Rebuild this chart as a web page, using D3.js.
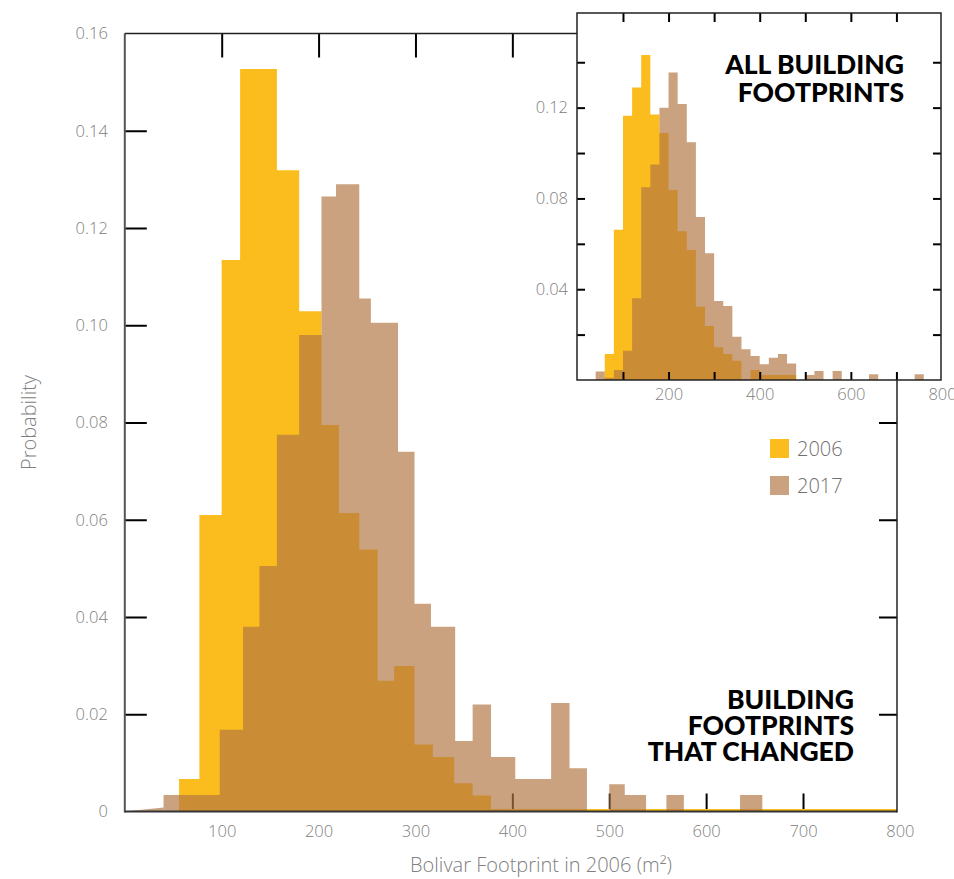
<!DOCTYPE html>
<html>
<head>
<meta charset="utf-8">
<script src="https://cdn.jsdelivr.net/npm/d3@7"></script>
<style>
  body { margin: 0; background: #fff; }
  svg text { font-family: "Open Sans", Lato, sans-serif; }
  .tickText text { fill: #808080; font-size: 16.5px; font-weight: 300; }
  .title { font-family: Lato, sans-serif !important; font-weight: 900; font-size: 26.5px; fill: #000; }
</style>
</head>
<body>
<div id="chart"></div>
<script>
// main chart: footprints that changed (bin edges in m2, probability per bin)
var mainEdges2006 = [56, 77, 100, 119, 157, 180, 203, 221, 242, 261, 278, 299, 318, 340, 359, 378, 797];
var main2006 = [0.0067, 0.061, 0.1134, 0.1527, 0.1319, 0.1029, 0.0795, 0.0614, 0.0539, 0.0269, 0.0299, 0.0138, 0.0112, 0.0058, 0.0033, 0.0005];

var mainEdges2017 = [40, 98, 122, 139, 157, 180, 203, 218, 242, 254, 282, 299, 316, 341, 359, 378, 403, 440, 459, 477, 500, 516, 538, 559, 577, 635, 658, 797];
var main2017 = [0.0034, 0.0168, 0.038, 0.0505, 0.0775, 0.098, 0.1265, 0.129, 0.1055, 0.1005, 0.074, 0.0427, 0.038, 0.0145, 0.022, 0.0112, 0.0067, 0.0223, 0.0089, 0, 0.0056, 0.0034, 0, 0.0034, 0, 0.0034, 0];
var lead2017 = [[0, 0], [40, 0.0008]];

// inset: all building footprints, 20 m2 bins
var insetStarts = [40, 60, 80, 100, 120, 140, 160, 180, 200, 220, 240, 260, 280, 300, 320, 340, 360, 380, 400, 420, 440, 460, 480, 500, 520, 540, 560, 580, 600, 620, 640, 660, 680, 700, 720, 740];
var inset2006 = [0, 0.0115, 0.0662, 0.1164, 0.1289, 0.1432, 0.117, 0.1088, 0.0837, 0.0655, 0.0573, 0.0323, 0.0238, 0.0144, 0.0115, 0.0085, 0, 0.0044, 0.0022, 0.0022, 0.0022, 0.0022, 0, 0, 0, 0, 0, 0, 0, 0, 0, 0, 0, 0, 0, 0];
var inset2017 = [0.0037, 0.001, 0.0044, 0.0129, 0.036, 0.0849, 0.095, 0.12, 0.1355, 0.1216, 0.1048, 0.0718, 0.0558, 0.0348, 0.0326, 0.0191, 0.0135, 0.0106, 0.0069, 0.0098, 0.0115, 0.0073, 0, 0.0022, 0.004, 0, 0.004, 0, 0, 0, 0.0025, 0, 0, 0, 0, 0.0025];
var binWidth = 20;

var years = ["2006", "2017"];
var mainTitle = ["BUILDING", "FOOTPRINTS", "THAT CHANGED"];
var insetTitle = ["ALL BUILDING", "FOOTPRINTS"];
var mainXTicks = [100, 200, 300, 400, 500, 600, 700, 800];
var mainYTicks = [0, 0.02, 0.04, 0.06, 0.08, 0.10, 0.12, 0.14, 0.16];
var insetXTicks = [100, 200, 300, 400, 500, 600, 700];
var insetXLabels = [200, 400, 600, 800];
var insetYTicks = [0.02, 0.04, 0.06, 0.08, 0.10, 0.12, 0.14];
var insetYLabels = [0.04, 0.08, 0.12];

var colorYellow = "#FBBD1E";
var colorBrown = "#B27643";
var brownOpacity = 0.68;

var width = 954, height = 879;
var svg = d3.select("#chart").append("svg")
    .attr("width", width)
    .attr("height", height);

var x = d3.scaleLinear().domain([0, 797]).range([124.8, 897]);
var y = d3.scaleLinear().domain([0, 0.16]).range([811.5, 33.5]);

function stepPoints(edges, values) {
    var pts = values.map(function(v, i) { return [edges[i], v]; });
    pts.push([edges[edges.length - 1], values[values.length - 1]]);
    return pts;
}

function stepArea(xs, ys) {
    return d3.area()
        .x(function(d) { return xs(d[0]); })
        .y0(ys(0))
        .y1(function(d) { return ys(d[1]); })
        .curve(d3.curveStepAfter);
}

var fmt = function(d) { return d === 0 ? "0" : d3.format(".2f")(d); };

// main axes (ticks point inward, drawn under the bars)
var gLeft = svg.append("g").attr("class", "tickText")
    .attr("transform", "translate(" + x(0) + ",0)")
    .call(d3.axisLeft(y).tickValues(mainYTicks).tickSize(-22).tickPadding(17).tickFormat(fmt));
var gRight = svg.append("g")
    .attr("transform", "translate(897,0)")
    .call(d3.axisRight(y).tickValues(mainYTicks.slice(1, -1)).tickSize(-18).tickFormat(""));
var gBottom = svg.append("g").attr("class", "tickText")
    .attr("transform", "translate(0," + y(0) + ")")
    .call(d3.axisBottom(x).tickValues(mainXTicks).tickSize(-18).tickPadding(14).tickFormat(d3.format("d")));
var gTop = svg.append("g")
    .attr("transform", "translate(0," + y(0.16) + ")")
    .call(d3.axisTop(x).tickValues(mainXTicks.slice(0, -1)).tickSize(-24).tickFormat(""));
[gLeft, gRight, gBottom, gTop].forEach(function(g) {
    g.select(".domain").remove();
    g.selectAll(".tick line").attr("stroke", "#000").attr("stroke-width", 2);
});
gLeft.selectAll(".tick").filter(function(d) { return d === 0 || d === 0.16; }).select("line").remove();
gBottom.selectAll(".tick").filter(function(d) { return d === 800; }).select("line").remove();
gBottom.selectAll(".tick text").attr("dy", "0.71em");

// main histograms
var mainArea = stepArea(x, y);
svg.append("path")
    .datum(stepPoints(mainEdges2006, main2006))
    .attr("fill", colorYellow)
    .attr("d", mainArea);
svg.append("path")
    .datum(lead2017)
    .attr("fill", colorBrown)
    .attr("fill-opacity", brownOpacity)
    .attr("d", d3.area().x(function(d) { return x(d[0]); }).y0(y(0)).y1(function(d) { return y(d[1]); }));
svg.append("path")
    .datum(stepPoints(mainEdges2017, main2017))
    .attr("fill", colorBrown)
    .attr("fill-opacity", brownOpacity)
    .attr("d", mainArea);

// main frame
svg.append("line").attr("x1", x(0)).attr("x2", x(0)).attr("y1", y(0.16)).attr("y2", y(0) + 1)
    .attr("stroke", "#555").attr("stroke-width", 2);
svg.append("line").attr("x1", x(0)).attr("x2", 897).attr("y1", y(0)).attr("y2", y(0))
    .attr("stroke", "#333").attr("stroke-width", 2);
svg.append("line").attr("x1", x(0)).attr("x2", 897).attr("y1", y(0.16)).attr("y2", y(0.16))
    .attr("stroke", "#222").attr("stroke-width", 1.5);
svg.append("line").attr("x1", 897).attr("x2", 897).attr("y1", y(0.16)).attr("y2", y(0) + 1)
    .attr("stroke", "#222").attr("stroke-width", 1.5);

// axis titles
svg.append("text")
    .attr("transform", "translate(36," + ((y(0) + y(0.16)) / 2) + ") rotate(-90)")
    .attr("text-anchor", "middle")
    .attr("fill", "#808080")
    .style("font-size", "20px")
    .style("font-weight", 300)
    .text("Probability");
svg.append("text")
    .attr("x", 541)
    .attr("y", 872)
    .attr("text-anchor", "middle")
    .attr("fill", "#808080")
    .style("font-size", "20px")
    .style("font-weight", 300)
    .text("Bolivar Footprint in 2006 (m²)");

svg.append("text")
    .attr("class", "title")
    .attr("text-anchor", "end")
    .selectAll("tspan")
    .data(mainTitle)
    .enter().append("tspan")
    .attr("x", 854)
    .attr("y", function(d, i) { return 709 + i * 26; })
    .text(function(d) { return d; });

// legend
var legend = svg.selectAll(".legend")
    .data(years)
    .enter().append("g")
    .attr("class", "legend")
    .attr("transform", function(d, i) { return "translate(770," + (439 + i * 37) + ")"; });
legend.append("rect")
    .attr("width", 19)
    .attr("height", 19)
    .attr("fill", function(d, i) { return i === 0 ? colorYellow : colorBrown; })
    .attr("fill-opacity", function(d, i) { return i === 0 ? 1 : brownOpacity; });
legend.append("text")
    .attr("x", 27)
    .attr("y", 10)
    .attr("dy", "0.35em")
    .attr("fill", "#6f6f6f")
    .style("font-size", "20px")
    .style("font-weight", 300)
    .text(function(d) { return d; });

// inset
var ix = d3.scaleLinear().domain([0, 800]).range([577.4, 942]);
var iy = d3.scaleLinear().domain([0, 0.1617]).range([380, 13]);

svg.append("rect")
    .attr("x", 577)
    .attr("y", iy(0.1617))
    .attr("width", 941 - 577)
    .attr("height", iy(0) - iy(0.1617))
    .attr("fill", "#fff");

var insetEdges = insetStarts.concat([insetStarts[insetStarts.length - 1] + binWidth]);
var insetArea = stepArea(ix, iy);
svg.append("path")
    .datum(stepPoints(insetEdges, inset2006))
    .attr("fill", colorYellow)
    .attr("d", insetArea);
svg.append("path")
    .datum(stepPoints(insetEdges, inset2017))
    .attr("fill", colorBrown)
    .attr("fill-opacity", brownOpacity)
    .attr("d", insetArea);

var iLeft = svg.append("g").attr("transform", "translate(577,0)")
    .call(d3.axisLeft(iy).tickValues(insetYTicks).tickSize(-8).tickFormat(""));
var iRight = svg.append("g").attr("transform", "translate(941,0)")
    .call(d3.axisRight(iy).tickValues(insetYTicks).tickSize(-8).tickFormat(""));
var iTop = svg.append("g").attr("transform", "translate(0," + iy(0.1617) + ")")
    .call(d3.axisTop(ix).tickValues(insetXTicks).tickSize(-9).tickFormat(""));
var iBottom = svg.append("g").attr("transform", "translate(0," + iy(0) + ")")
    .call(d3.axisBottom(ix).tickValues(insetXTicks).tickSize(-8).tickFormat(""));
[iLeft, iRight, iTop, iBottom].forEach(function(g) {
    g.select(".domain").remove();
    g.selectAll(".tick line").attr("stroke", "#000").attr("stroke-width", 2);
});

svg.append("g").attr("class", "tickText")
    .attr("transform", "translate(577,0)")
    .call(d3.axisLeft(iy).tickValues(insetYLabels).tickSize(0).tickPadding(9).tickFormat(d3.format(".2f")))
    .select(".domain").remove();
var iLab = svg.append("g").attr("class", "tickText")
    .attr("transform", "translate(0," + iy(0) + ")")
    .call(d3.axisBottom(ix).tickValues(insetXLabels).tickSize(0).tickPadding(8).tickFormat(d3.format("d")));
iLab.select(".domain").remove();

svg.append("rect")
    .attr("x", 577)
    .attr("y", iy(0.1617))
    .attr("width", 941 - 577)
    .attr("height", iy(0) - iy(0.1617))
    .attr("fill", "none")
    .attr("stroke", "#222")
    .attr("stroke-width", 1.5);

svg.append("text")
    .attr("class", "title")
    .attr("text-anchor", "end")
    .selectAll("tspan")
    .data(insetTitle)
    .enter().append("tspan")
    .attr("x", 904)
    .attr("y", function(d, i) { return 74 + i * 28; })
    .text(function(d) { return d; });
</script>
</body>
</html>
